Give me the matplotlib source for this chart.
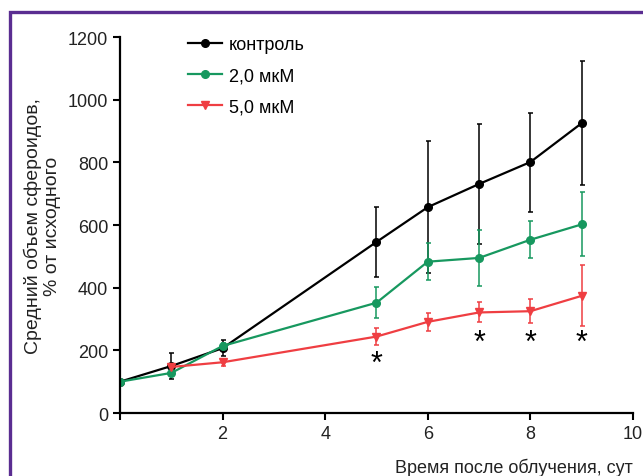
import matplotlib.pyplot as plt
from matplotlib.patches import Rectangle
from matplotlib.lines import Line2D

plt.rcParams['font.family'] = ['Liberation Sans', 'DejaVu Sans']

# Data (days after irradiation, % of initial volume)
days_ctrl = [0, 1, 2, 5, 6, 7, 8, 9]
ctrl = [100, 150, 207, 546, 657, 731, 801, 925]
ctrl_err = [0, 40, 25, 112, 210, 190, 158, 198]

days_2 = [0, 1, 2, 5, 6, 7, 8, 9]
conc2 = [100, 128, 214, 352, 483, 495, 553, 602]
conc2_err = [0, 5, 8, 50, 60, 88, 59, 102]

days_5 = [1, 2, 5, 6, 7, 8, 9]
conc5 = [147, 162, 244, 291, 321, 325, 374]
conc5_err = [5, 12, 26, 28, 32, 39, 97]

star_days = [5, 7, 8, 9]
star_y = [158, 225, 225, 225]

labels = ['контроль', '2,0 мкМ', '5,0 мкМ']
colors = ['black', '#17985f', '#ef3e42']
markers = ['o', 'o', 'v']

fig = plt.figure(figsize=(6.43, 4.77), dpi=100)
ax = fig.add_axes([0.1866, 0.132, 0.7978, 0.7883])

series = [(days_ctrl, ctrl, ctrl_err), (days_2, conc2, conc2_err), (days_5, conc5, conc5_err)]
for (d, v, e), c, m in zip(series, colors, markers):
    ax.errorbar(d, v, yerr=e, color=c, marker=m, ms=5.5, lw=1.6,
                elinewidth=1.1, capsize=1.8, capthick=1.1)

for d, s in zip(star_days, star_y):
    ax.text(d, s, '*', ha='center', va='center', fontsize=22)

ax.set_xlim(0, 10)
ax.set_ylim(0, 1200)
ax.set_xticks([0, 2, 4, 6, 8, 10])
ax.set_xticklabels(['', '2', '4', '6', '8', '10'])
ax.set_yticks([0, 200, 400, 600, 800, 1000, 1200])
ax.tick_params(labelsize=13, width=1.5, length=5, colors='black', labelcolor='#222222')
for side in ['top', 'right']:
    ax.spines[side].set_visible(False)
for side in ['left', 'bottom']:
    ax.spines[side].set_linewidth(1.6)

ax.set_ylabel('Средний объем сфероидов,\n% от исходного', fontsize=14,
              color='#222222', linespacing=1.15, labelpad=5)
ax.set_xlabel('Время после облучения, сут', fontsize=13, color='#222222')
ax.xaxis.set_label_coords(1.0, -0.118)
ax.xaxis.label.set_ha('right')

handles = [Line2D([], [], color=c, marker=m, ms=5.5, lw=1.6) for c, m in zip(colors, markers)]
ax.legend(handles, labels, loc='upper left', bbox_to_anchor=(0.1, 1.045), frameon=False,
          fontsize=13, handlelength=1.9, labelspacing=0.78, handletextpad=0.4)

# purple frame around the panel
fig.patches.append(Rectangle((9.5 / 643, -0.1), 1.2, 1 - 12.5 / 477 + 0.1,
                             transform=fig.transFigure, fill=False,
                             edgecolor='#5a2d91', lw=2.4))

fig.savefig('out.png', dpi=100)
